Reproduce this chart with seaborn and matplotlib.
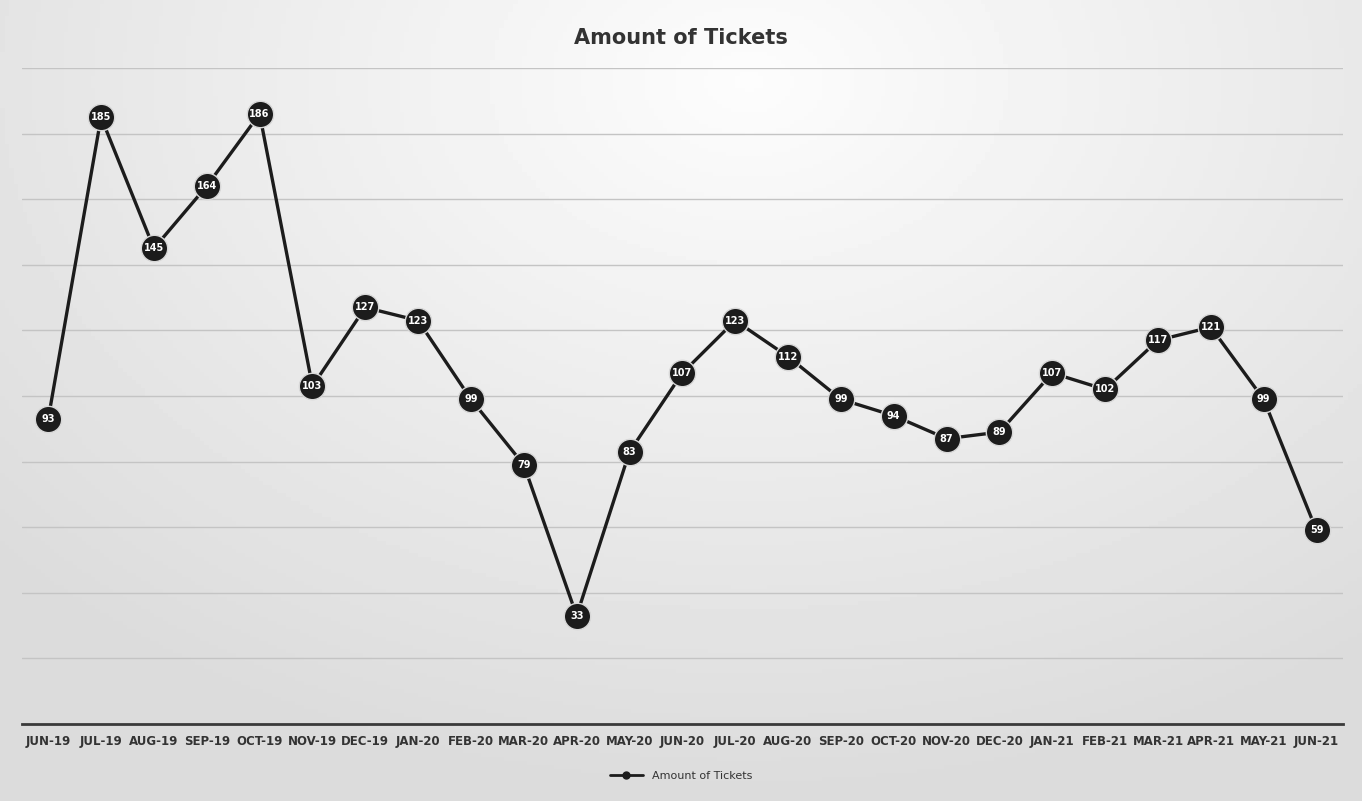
import matplotlib
matplotlib.use("Agg")
import matplotlib.pyplot as plt
import seaborn as sns
import pandas as pd
import numpy as np

months = ["JUN-19", "JUL-19", "AUG-19", "SEP-19", "OCT-19", "NOV-19", "DEC-19",
          "JAN-20", "FEB-20", "MAR-20", "APR-20", "MAY-20", "JUN-20", "JUL-20",
          "AUG-20", "SEP-20", "OCT-20", "NOV-20", "DEC-20", "JAN-21", "FEB-21",
          "MAR-21", "APR-21", "MAY-21", "JUN-21"]
tickets = [93, 185, 145, 164, 186, 103, 127, 123, 99, 79, 33, 83, 107, 123,
           112, 99, 94, 87, 89, 107, 102, 117, 121, 99, 59]

df = pd.DataFrame({"Month": months, "Amount of Tickets": tickets})

sns.set_theme(style="white")
plt.rcParams['font.family'] = ['DejaVu Sans']

fig = plt.figure(figsize=(13.62, 8.01), dpi=100)
fig.patch.set_facecolor("#e6e6e6")

# soft scanned-paper background gradient (decorative)
bg = fig.add_axes([0, 0, 1, 1], zorder=-10)
yy, xx = np.mgrid[0:1:200j, 0:1:300j]
r = np.sqrt(((xx - 0.55) / 0.75) ** 2 + ((yy - 0.1) / 0.9) ** 2)
grad = np.clip(1 - r, 0, 1)
bg.imshow(0.86 + 0.13 * grad, cmap="gray", vmin=0, vmax=1, aspect="auto",
          extent=[0, 1, 1, 0])
bg.set_axis_off()

ax = fig.add_axes([0.016, 0.0961, 0.970, 0.819])
ax.set_facecolor("none")

color = "#1c1c1c"
sns.lineplot(data=df, x="Month", y="Amount of Tickets", ax=ax, color=color,
             linewidth=2.4, marker="o", markersize=19, markerfacecolor=color,
             markeredgecolor="#d8d8d8", markeredgewidth=1.0, sort=False,
             label="Amount of Tickets", legend=False)

for i, v in enumerate(tickets):
    ax.text(i, v, str(v), ha="center", va="center", color="white",
            fontsize=7, fontweight="bold", zorder=5)

ax.set_xlim(-0.5, len(months) - 0.5)
ax.set_ylim(0, 200)
ax.set_yticks(np.arange(0, 201, 20))
ax.yaxis.grid(True, color="#c4c4c4", linewidth=1.0)
ax.set_yticklabels([])
ax.tick_params(axis="y", length=0)
ax.set_xlabel("")
ax.set_ylabel("")

for s in ["top", "right", "left"]:
    ax.spines[s].set_visible(False)
ax.spines["bottom"].set_color("#3a3a3a")
ax.spines["bottom"].set_linewidth(2)

ax.set_xticks(range(len(months)))
ax.set_xticklabels(months, fontsize=8.5, fontweight="bold", color="#333333")
ax.tick_params(axis="x", which="major", length=0, pad=8)
ax.set_xticks(np.arange(-0.5, len(months), 1), minor=True)
ax.tick_params(axis="x", which="minor", length=5, width=1.2, color="#3a3a3a",
               direction="out")

fig.text(0.5, 0.953, "Amount of Tickets", ha="center", va="center",
         fontsize=15, fontweight="bold", color="#333333")

handle = plt.Line2D([], [], color=color, linewidth=2, marker="o",
                    markersize=5, markerfacecolor=color)
fig.legend([handle], ["Amount of Tickets"], loc="center",
           bbox_to_anchor=(0.5, 0.031), frameon=False, fontsize=8,
           handlelength=3, labelcolor="#333333")

fig.savefig("out.png", dpi=100, facecolor=fig.get_facecolor())
